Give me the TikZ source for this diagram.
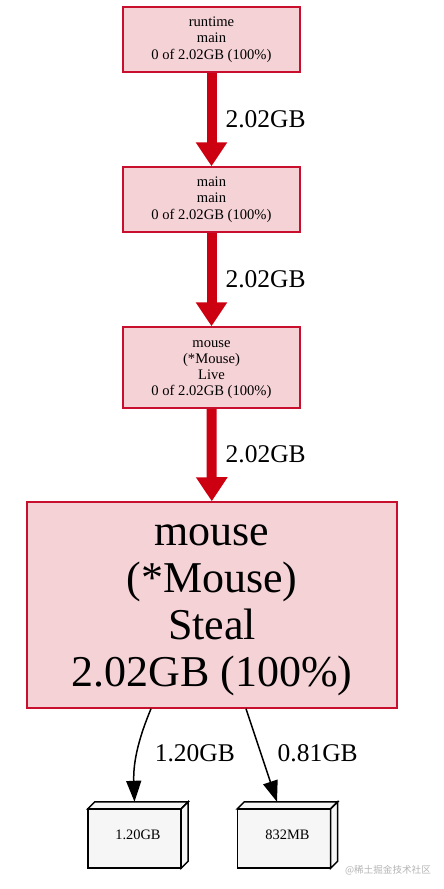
\documentclass[tikz,border=0pt]{standalone}
\usepackage{fontspec}
\setmainfont{Liberation Serif}
\newfontfamily\cjk{Noto Sans CJK SC}
\usetikzlibrary{arrows.meta,backgrounds}
\definecolor{nodefill}{HTML}{F4D2D6}
\definecolor{nodeline}{HTML}{C8102E}
\definecolor{edgered}{HTML}{CC0010}
\definecolor{boxfill}{HTML}{F6F6F6}
\definecolor{wmgray}{HTML}{B4B4B4}
\tikzset{
  fnode/.style={draw=nodeline, fill=nodefill, line width=1.5pt, align=center, inner sep=0pt,
    font=\fontsize{14.6}{16.3}\selectfont, minimum width=177pt},
  bignode/.style={draw=nodeline, fill=nodefill, line width=1.5pt, align=center, inner sep=0pt,
    font=\fontsize{44}{47}\selectfont, minimum width=370pt, minimum height=206pt},
  thickedge/.style={edgered, line width=10pt, -{Triangle[width=30pt,length=24pt]}},
  thinedge/.style={black, line width=1.5pt, -{Triangle[width=15pt,length=21pt]}},
  elabel/.style={font=\fontsize{25.5}{28}\selectfont, inner sep=0pt, anchor=west, text=black},
  leafbox/.style={font=\fontsize{14.4}{16}\selectfont, inner sep=0pt, minimum width=100pt, minimum height=66pt},
  boxface/.style={fill=boxfill, draw=black, line width=1.5pt, line join=miter},
}
\begin{document}
\begin{tikzpicture}[x=1pt,y=-1pt]
\useasboundingbox (0,0) rectangle (444,889);
\node[fnode, minimum height=65pt] (rt) at (211.5,39.5) {runtime\\main\\0 of 2.02GB (100\%)};
\node[fnode, minimum height=65pt] (mm) at (211.5,199.5) {main\\main\\0 of 2.02GB (100\%)};
\node[fnode, minimum height=81pt] (live) at (211.5,367.5) {\rule{0pt}{11pt}mouse\\(*Mouse)\\Live\\0 of 2.02GB (100\%)};
\node[bignode] (steal) at (212,605) {\rule{0pt}{31pt}mouse\\(*Mouse)\\Steal\\2.02GB (100\%)};
\node[leafbox] (b1) at (138,835) {1.20GB};
\node[leafbox] (b2) at (287.5,835) {832MB};
\begin{pgfonlayer}{background}
\foreach \n in {b1,b2}{
  \draw[boxface] (\n.south west) rectangle ([xshift=-7pt,yshift=-7pt]\n.north east);
  \draw[boxface] ([yshift=-7pt]\n.north west) -- ([xshift=7pt]\n.north west) -- (\n.north east) -- ([xshift=-7pt,yshift=-7pt]\n.north east) -- cycle;
  \draw[boxface] ([xshift=-7pt,yshift=-7pt]\n.north east) -- (\n.north east) -- ([yshift=7pt]\n.south east) -- ([xshift=-7pt]\n.south east) -- cycle;
}
\end{pgfonlayer}
\draw[thickedge] (rt) -- node[elabel, pos=0.5, xshift=9pt]{2.02GB} (mm);
\draw[thickedge] (mm) -- node[elabel, pos=0.5, xshift=9pt, yshift=0pt]{2.02GB} (live);
\draw[thickedge] (live) -- node[elabel, pos=0.5, xshift=9pt, yshift=1pt]{2.02GB} (steal);
\draw[thinedge] ([xshift=-61pt]steal.south) .. controls (140,735) and (133,760) .. node[elabel, pos=0.5, xshift=16pt, yshift=-4pt]{1.20GB} ([xshift=-3.5pt]b1.north);
\draw[thinedge] ([xshift=34pt]steal.south) -- node[elabel, pos=0.48, xshift=16pt]{0.81GB} ([xshift=-10.5pt]b2.north);
\node[text=wmgray, font=\cjk\fontsize{9.6}{11}\selectfont, inner sep=0pt] (wm) at (388,870) {@稀土掘金技术社区};
\end{tikzpicture}
\end{document}
